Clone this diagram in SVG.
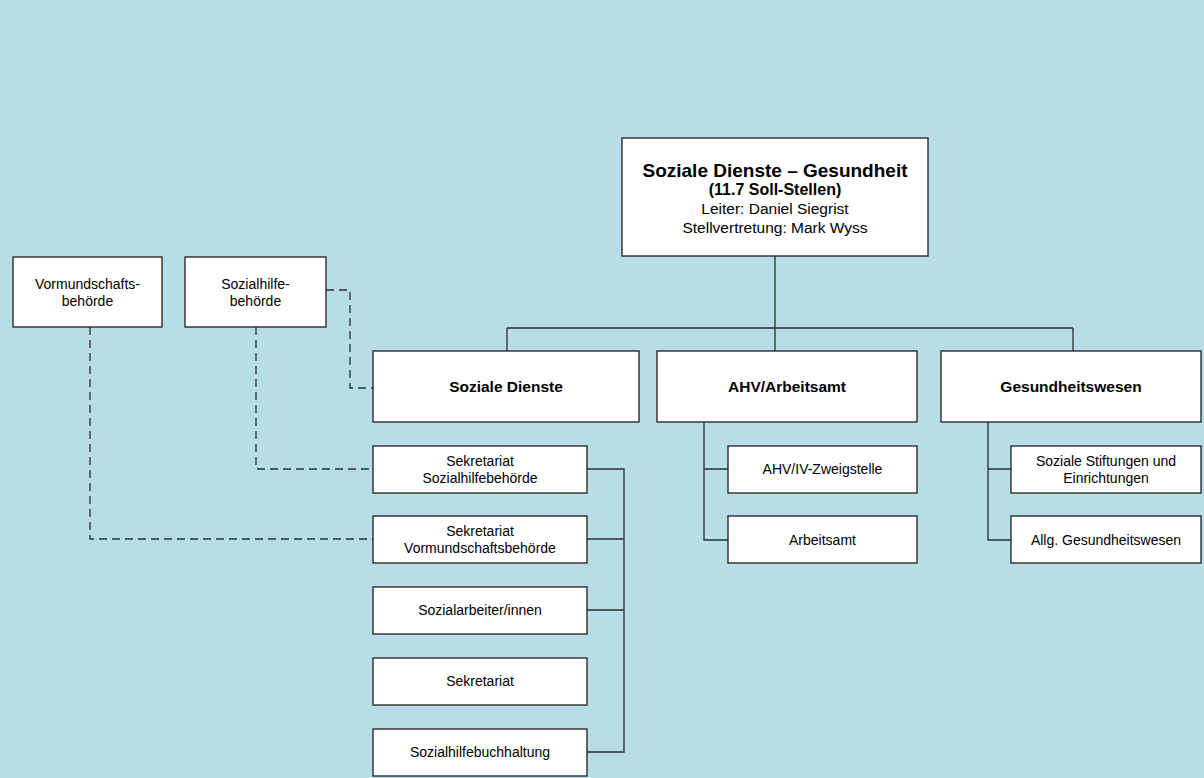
<svg xmlns="http://www.w3.org/2000/svg" width="1204" height="778" viewBox="0 0 1204 778">
  <style>
    .box { fill: #ffffff; stroke: #1e1e1e; stroke-width: 1.3; }
    .line { fill: none; stroke: #2b2f31; stroke-width: 1.3; }
    .dash { fill: none; stroke: #2b2f31; stroke-width: 1.3; stroke-dasharray: 8 5; }
    text { font-family: "Liberation Sans", Arial, sans-serif; fill: #000; text-anchor: middle; }
    .t { font-size: 14px; }
    .b { font-size: 15.5px; font-weight: bold; }
  </style>
  <rect x="0" y="0" width="1204" height="778" fill="#b7dde7"/>

  <!-- connectors -->
  <g id="connectors">
    <path class="line" d="M775 256 V328 M507 328 H1073 M507 328 V351 M775 328 V351 M1073 328 V351"/>
    <path class="line" d="M587 469 H624 V752 H587 M587 539 H624 M587 610 H624"/>
    <path class="line" d="M704 422 V540 H728 M704 469 H728"/>
    <path class="line" d="M988 422 V540 H1011 M988 469 H1011"/>
    <path class="dash" d="M326 290 H350 V388 H373"/>
    <path class="dash" d="M256 327 V469 H373"/>
    <path class="dash" d="M90 327 V539 H373"/>
  </g>

  <g id="leitung">
    <rect class="box" x="622" y="138" width="306" height="118"/>
    <text x="775" y="177" style="font-size:19px;font-weight:bold">Soziale Dienste – Gesundheit</text>
    <text x="775" y="195" style="font-size:16px;font-weight:bold">(11.7 Soll-Stellen)</text>
    <text x="775" y="214" style="font-size:15.5px">Leiter: Daniel Siegrist</text>
    <text x="775" y="233" style="font-size:15.5px">Stellvertretung: Mark Wyss</text>
  </g>

  <g id="vormundschaftsbehoerde">
    <rect class="box" x="13" y="257" width="149" height="70"/>
    <text class="t" x="87.5" y="289">Vormundschafts-</text>
    <text class="t" x="87.5" y="306">behörde</text>
  </g>
  <g id="sozialhilfebehoerde">
    <rect class="box" x="185" y="257" width="141" height="70"/>
    <text class="t" x="255.5" y="289">Sozialhilfe-</text>
    <text class="t" x="255.5" y="306">behörde</text>
  </g>

  <g id="soziale-dienste">
    <rect class="box" x="373" y="351" width="266" height="71"/>
    <text class="b" x="506" y="392">Soziale Dienste</text>
  </g>
  <g id="ahv-arbeitsamt">
    <rect class="box" x="657" y="351" width="260" height="71"/>
    <text class="b" x="787" y="392">AHV/Arbeitsamt</text>
  </g>
  <g id="gesundheitswesen">
    <rect class="box" x="941" y="351" width="260" height="71"/>
    <text class="b" x="1071" y="392">Gesundheitswesen</text>
  </g>

  <g id="sek-sozialhilfebehoerde">
    <rect class="box" x="373" y="446" width="214" height="47"/>
    <text class="t" x="480" y="466">Sekretariat</text>
    <text class="t" x="480" y="483">Sozialhilfebehörde</text>
  </g>
  <g id="sek-vormundschaftsbehoerde">
    <rect class="box" x="373" y="516" width="214" height="47"/>
    <text class="t" x="480" y="536">Sekretariat</text>
    <text class="t" x="480" y="553">Vormundschaftsbehörde</text>
  </g>
  <g id="sozialarbeiter">
    <rect class="box" x="373" y="587" width="214" height="47"/>
    <text class="t" x="480" y="615">Sozialarbeiter/innen</text>
  </g>
  <g id="sekretariat">
    <rect class="box" x="373" y="658" width="214" height="47"/>
    <text class="t" x="480" y="686">Sekretariat</text>
  </g>
  <g id="sozialhilfebuchhaltung">
    <rect class="box" x="373" y="729" width="214" height="47"/>
    <text class="t" x="480" y="757">Sozialhilfebuchhaltung</text>
  </g>

  <g id="ahv-iv-zweigstelle">
    <rect class="box" x="728" y="446" width="189" height="47"/>
    <text class="t" x="822.5" y="474">AHV/IV-Zweigstelle</text>
  </g>
  <g id="arbeitsamt">
    <rect class="box" x="728" y="516" width="189" height="47"/>
    <text class="t" x="822.5" y="545">Arbeitsamt</text>
  </g>

  <g id="soziale-stiftungen">
    <rect class="box" x="1011" y="446" width="190" height="47"/>
    <text class="t" x="1106" y="466">Soziale Stiftungen und</text>
    <text class="t" x="1106" y="483">Einrichtungen</text>
  </g>
  <g id="allg-gesundheitswesen">
    <rect class="box" x="1011" y="516" width="190" height="47"/>
    <text class="t" x="1106" y="545">Allg. Gesundheitswesen</text>
  </g>
</svg>
